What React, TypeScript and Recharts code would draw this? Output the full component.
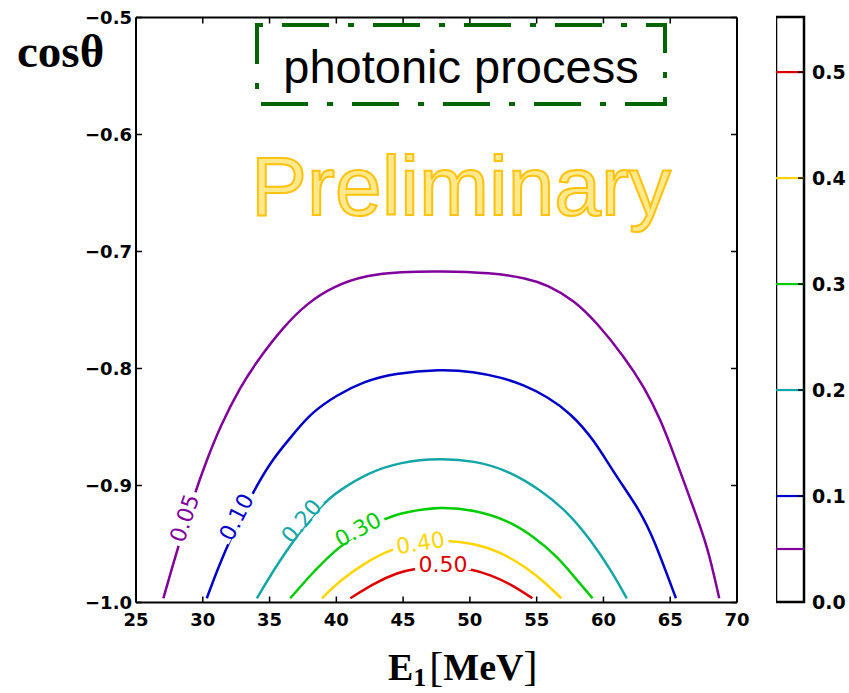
import {
  ComposedChart,
  Line,
  Scatter,
  XAxis,
  YAxis,
  ReferenceArea,
} from "recharts";

// contour lines: e = E1 [MeV], c = cos(theta)
const level005 = [
  { e: 27.05, c: -0.9964 }, { e: 27.93, c: -0.9609 }, { e: 29.43, c: -0.9053 },
  { e: 30.3, c: -0.8782 }, { e: 31.3, c: -0.8497 }, { e: 32.8, c: -0.8156 },
  { e: 34.3, c: -0.7899 }, { e: 36.05, c: -0.7643 }, { e: 37.8, c: -0.7443 },
  { e: 39.8, c: -0.7295 }, { e: 42.3, c: -0.7201 }, { e: 44.8, c: -0.7173 },
  { e: 47.8, c: -0.7167 }, { e: 51.55, c: -0.7181 }, { e: 54.3, c: -0.7229 },
  { e: 55.8, c: -0.7286 }, { e: 57.8, c: -0.7415 }, { e: 59.55, c: -0.7614 },
  { e: 61.55, c: -0.7899 }, { e: 63.05, c: -0.8156 }, { e: 64.3, c: -0.844 },
  { e: 65.43, c: -0.8782 }, { e: 66.8, c: -0.9209 }, { e: 67.8, c: -0.9523 },
  { e: 68.67, c: -0.9964 },
];

const level010 = [
  { e: 30.3, c: -0.9964 }, { e: 31.55, c: -0.9579 }, { e: 33.68, c: -0.9067 },
  { e: 35.18, c: -0.8782 }, { e: 36.43, c: -0.8611 }, { e: 38.05, c: -0.8383 },
  { e: 40.05, c: -0.8226 }, { e: 42.05, c: -0.8112 }, { e: 44.3, c: -0.8041 },
  { e: 47.8, c: -0.8006 }, { e: 50.3, c: -0.8027 }, { e: 52.3, c: -0.8075 },
  { e: 54.05, c: -0.8141 }, { e: 55.8, c: -0.8241 }, { e: 57.55, c: -0.8383 },
  { e: 59.3, c: -0.8611 }, { e: 60.8, c: -0.8896 }, { e: 62.8, c: -0.9224 },
  { e: 63.8, c: -0.9466 }, { e: 65.43, c: -0.9964 },
];

const level020 = [
  { e: 34.05, c: -0.9964 }, { e: 36.05, c: -0.9579 }, { e: 38.93, c: -0.9152 },
  { e: 40.3, c: -0.9038 }, { e: 42.3, c: -0.8896 }, { e: 44.8, c: -0.8797 },
  { e: 47.8, c: -0.8768 }, { e: 50.3, c: -0.8788 }, { e: 52.8, c: -0.8868 },
  { e: 55.3, c: -0.9038 }, { e: 57.3, c: -0.9224 }, { e: 59.05, c: -0.9466 },
  { e: 60.55, c: -0.9722 }, { e: 61.75, c: -0.9964 },
];

const level030 = [
  { e: 36.55, c: -0.9964 }, { e: 39.8, c: -0.9537 }, { e: 43.43, c: -0.928 },
  { e: 45.3, c: -0.9224 }, { e: 47.8, c: -0.9181 }, { e: 50.3, c: -0.9209 },
  { e: 52.8, c: -0.9295 }, { e: 54.8, c: -0.9438 }, { e: 56.55, c: -0.9609 },
  { e: 57.8, c: -0.9779 }, { e: 59.18, c: -0.9964 },
];

const level040 = [
  { e: 38.93, c: -0.9964 }, { e: 40.3, c: -0.9808 }, { e: 42.3, c: -0.9651 },
  { e: 44.05, c: -0.9545 }, { e: 46.3, c: -0.9483 }, { e: 48.18, c: -0.9466 },
  { e: 50.3, c: -0.9494 }, { e: 52.3, c: -0.9566 }, { e: 54.3, c: -0.9708 },
  { e: 55.55, c: -0.9822 }, { e: 56.85, c: -0.9964 },
];

const level050 = [
  { e: 41.05, c: -0.9964 }, { e: 42.8, c: -0.9836 }, { e: 44.55, c: -0.9745 },
  { e: 45.93, c: -0.9708 }, { e: 47.8, c: -0.9688 }, { e: 49.93, c: -0.9708 },
  { e: 51.55, c: -0.9765 }, { e: 53.05, c: -0.9842 }, { e: 54.68, c: -0.9964 },
];

const contours = [
  { name: "0.05", level: 0.05, data: level005, color: "#80009a" },
  { name: "0.10", level: 0.1, data: level010, color: "#0000c8" },
  { name: "0.20", level: 0.2, data: level020, color: "#14a6a6" },
  { name: "0.30", level: 0.3, data: level030, color: "#00cc00" },
  { name: "0.40", level: 0.4, data: level040, color: "#ffd500" },
  { name: "0.50", level: 0.5, data: level050, color: "#dd0000" },
];

// inline contour labels: position on the curve and text angle
const contourLabels = [
  { e: 28.6, c: -0.9278, text: "0.05", angle: -71, color: "#80009a" },
  { e: 32.49, c: -0.9267, text: "0.10", angle: -63, color: "#0000c8" },
  { e: 37.36, c: -0.9302, text: "0.20", angle: -50, color: "#14a6a6" },
  { e: 41.61, c: -0.9373, text: "0.30", angle: -28, color: "#00cc00" },
  { e: 46.3, c: -0.9487, text: "0.40", angle: -9, color: "#ffd500" },
  { e: 47.99, c: -0.9671, text: "0.50", angle: 0, color: "#dd0000" },
];

const xTicks = [25, 30, 35, 40, 45, 50, 55, 60, 65, 70];
const yTicks = [-1.0, -0.9, -0.8, -0.7, -0.6, -0.5];
const barTicks = [0.0, 0.1, 0.2, 0.3, 0.4, 0.5];
const barMax = 0.552;

const barLevels = contours.map((ct) => ({ x: 0.5, v: ct.level, color: ct.color }));

const TICK_FONT = "'DejaVu Sans', sans-serif";

const fmt = (v: number) => v.toFixed(1).replace("-", "\u2212");

function BottomTick({ x, y, payload }: any) {
  return (
    <g>
      <line x1={x} x2={x} y1={y} y2={y - 6} stroke="#000" strokeWidth={1.5} />
      <text x={x} y={y + 23} textAnchor="middle" fontFamily={TICK_FONT} fontWeight="bold" fontSize={18} fill="#000">
        {payload.value}
      </text>
    </g>
  );
}

function TopTick({ x, y }: any) {
  return <line x1={x} x2={x} y1={y} y2={y + 6} stroke="#000" strokeWidth={1.5} />;
}

function LeftTick({ x, y, payload }: any) {
  return (
    <g>
      <line x1={x} x2={x + 6} y1={y} y2={y} stroke="#000" strokeWidth={1.5} />
      <text x={x - 4} y={y + 6.5} textAnchor="end" fontFamily={TICK_FONT} fontWeight="bold" fontSize={18} fill="#000">
        {fmt(payload.value)}
      </text>
    </g>
  );
}

function RightTick({ x, y }: any) {
  return <line x1={x} x2={x - 6} y1={y} y2={y} stroke="#000" strokeWidth={1.5} />;
}

function BarTick({ x, y, payload }: any) {
  return (
    <g>
      <line x1={x} x2={x - 6} y1={y} y2={y} stroke="#000" strokeWidth={1.5} />
      <text x={x + 8} y={y + 7} textAnchor="start" fontFamily={TICK_FONT} fontWeight="bold" fontSize={19} fill="#000">
        {payload.value.toFixed(1)}
      </text>
    </g>
  );
}

function ContourLabel(props: any) {
  const { cx, cy } = props;
  const p = props.payload ?? props;
  return (
    <g transform={`translate(${cx},${cy}) rotate(${p.angle})`}>
      <rect x={-28} y={-6} width={56} height={12} fill="#fff" />
      <text x={0} y={8} textAnchor="middle" fontFamily={TICK_FONT} fontSize={22} fill={p.color}>
        {p.text}
      </text>
    </g>
  );
}

function LevelMark(props: any) {
  const { cy } = props;
  const p = props.payload ?? props;
  return <line x1={0} x2={28} y1={cy} y2={cy} stroke={p.color} strokeWidth={2.2} />;
}

export default function App() {
  return (
    <div style={{ position: "absolute", left: 0, top: 0, width: 849, height: 693, background: "#fff" }}>
      <div style={{ position: "absolute", left: 0, top: 0 }}>
        <ComposedChart width={849} height={693} margin={{ top: 16.5, right: 111, bottom: 0, left: 0 }}>
          <XAxis
            xAxisId="main"
            dataKey="e"
            type="number"
            domain={[25, 70]}
            ticks={xTicks}
            allowDataOverflow
            height={90.5}
            tickSize={0}
            tickMargin={0}
            tickLine={false}
            axisLine={{ stroke: "#000", strokeWidth: 2 }}
            tick={<BottomTick />}
          />
          <XAxis
            xAxisId="top"
            orientation="top"
            dataKey="e"
            type="number"
            domain={[25, 70]}
            ticks={xTicks}
            allowDataOverflow
            height={1}
            tickSize={0}
            tickMargin={0}
            tickLine={false}
            axisLine={{ stroke: "#000", strokeWidth: 2 }}
            tick={<TopTick />}
          />
          <YAxis
            yAxisId="main"
            type="number"
            domain={[-1, -0.5]}
            ticks={yTicks}
            allowDataOverflow
            width={136}
            tickSize={0}
            tickMargin={0}
            tickLine={false}
            axisLine={{ stroke: "#000", strokeWidth: 2 }}
            tick={<LeftTick />}
          />
          <YAxis
            yAxisId="right"
            orientation="right"
            type="number"
            domain={[-1, -0.5]}
            ticks={yTicks}
            allowDataOverflow
            width={1}
            tickSize={0}
            tickMargin={0}
            tickLine={false}
            axisLine={{ stroke: "#000", strokeWidth: 2 }}
            tick={<RightTick />}
          />
          {contours.map((ct) => (
            <Line
              key={ct.name}
              xAxisId="main"
              yAxisId="main"
              data={ct.data}
              dataKey="c"
              type="basis"
              stroke={ct.color}
              strokeWidth={2.5}
              dot={false}
              activeDot={false}
              isAnimationActive={false}
            />
          ))}
          {/* keeps the top / right frame axes bound to the same data */}
          <Line
            xAxisId="top"
            yAxisId="right"
            data={level005}
            dataKey="c"
            stroke="none"
            dot={false}
            activeDot={false}
            isAnimationActive={false}
          />
          <Scatter
            xAxisId="main"
            yAxisId="main"
            data={contourLabels}
            dataKey="c"
            shape={<ContourLabel />}
            isAnimationActive={false}
          />
        </ComposedChart>
      </div>

      {/* colour bar */}
      <div style={{ position: "absolute", left: 776, top: 0 }}>
        <ComposedChart width={73} height={693} margin={{ top: 17, right: 0, bottom: 91, left: 0 }}>
          <XAxis type="number" dataKey="x" domain={[0, 1]} hide />
          <YAxis
            orientation="right"
            type="number"
            domain={[0, barMax]}
            ticks={barTicks}
            allowDataOverflow
            width={45}
            tickSize={0}
            tickMargin={0}
            tickLine={false}
            axisLine={false}
            tick={<BarTick />}
          />
          <Scatter data={barLevels} dataKey="v" shape={<LevelMark />} isAnimationActive={false} />
          <ReferenceArea x1={0} x2={1} y1={0} y2={barMax} fill="none" stroke="#000" strokeWidth={2.5} ifOverflow="visible" />
        </ComposedChart>
      </div>

      {/* annotations and axis titles */}
      <svg width={849} height={693} style={{ position: "absolute", left: 0, top: 0, pointerEvents: "none" }}>
        <rect
          x={257}
          y={25}
          width={408}
          height={79}
          fill="none"
          stroke="#006400"
          strokeWidth={4}
          strokeDasharray="47 19 6 19"
          strokeDashoffset={66}
        />
        <text x={461} y={83} textAnchor="middle" fontFamily="'Liberation Sans', Arial, sans-serif" fontSize={47} fill="#000">
          photonic process
        </text>
        <text
          x={461}
          y={215}
          textAnchor="middle"
          fontFamily="'Liberation Sans', Arial, sans-serif"
          fontSize={84}
          fill="#ffe98c"
          stroke="#ffc20e"
          strokeWidth={2}
        >
          Preliminary
        </text>
        <text x={17} y={67} fontFamily="'Liberation Serif', serif" fontWeight="bold" fontSize={47} fill="#000">
          cosθ
        </text>
        <text x={388} y={680} fontFamily="'Liberation Serif', serif" fontWeight="bold" fontSize={38} fill="#000">
          E
          <tspan fontSize={26} dy={6}>1</tspan>
          <tspan fontSize={42} dy={-5} dx={3} fontWeight="normal">[</tspan>
          <tspan fontSize={38} dy={-1}>MeV</tspan>
          <tspan fontSize={42} fontWeight="normal">]</tspan>
        </text>
      </svg>
    </div>
  );
}
